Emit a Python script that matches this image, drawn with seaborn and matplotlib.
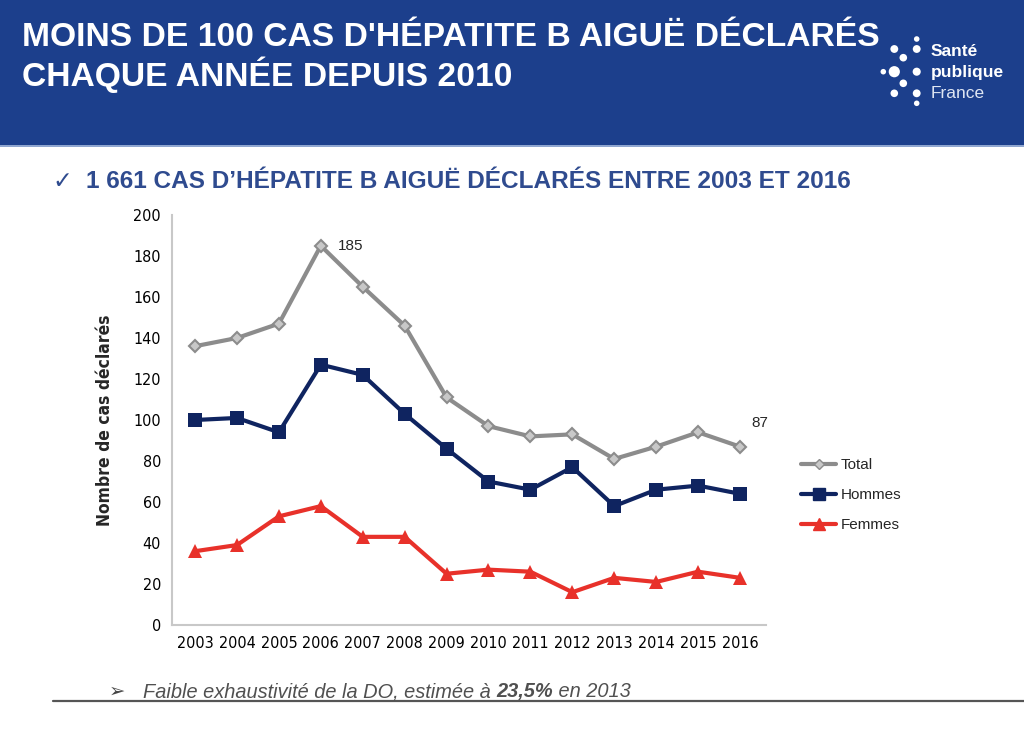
import matplotlib
matplotlib.use("Agg")
import matplotlib.pyplot as plt
from matplotlib import font_manager
from matplotlib.patches import Rectangle
from matplotlib.lines import Line2D
import seaborn as sns
import pandas as pd

years = [2003, 2004, 2005, 2006, 2007, 2008, 2009, 2010, 2011, 2012, 2013, 2014, 2015, 2016]
total = [136, 140, 147, 185, 165, 146, 111, 97, 92, 93, 81, 87, 94, 87]
hommes = [100, 101, 94, 127, 122, 103, 86, 70, 66, 77, 58, 66, 68, 64]
femmes = [36, 39, 53, 58, 43, 43, 25, 27, 26, 16, 23, 21, 26, 23]
series_names = ["Total", "Hommes", "Femmes"]
yticks = [0, 20, 40, 60, 80, 100, 120, 140, 160, 180, 200]

title_lines = ["MOINS DE 100 CAS D'HÉPATITE B AIGUË DÉCLARÉS", "CHAQUE ANNÉE DEPUIS 2010"]
subtitle = "1 661 CAS D\u2019HÉPATITE B AIGUË DÉCLARÉS ENTRE 2003 ET 2016"
ylabel = "Nombre de cas déclarés"

df = pd.DataFrame({
    "year": years * 3,
    "value": total + hommes + femmes,
    "serie": [s for s in series_names for _ in years],
})

sns.set_theme(style="white")
plt.rcParams['font.family'] = ['Liberation Sans', 'DejaVu Sans']


def find_file(keys, bold):
    for f in font_manager.fontManager.ttflist:
        fn = f.fname.replace("\\", "/").split("/")[-1].lower()
        if all(k in fn for k in keys):
            isbold = "bold" in fn
            if isbold == bold and "oblique" not in fn and "italic" not in fn:
                return f.fname
    return None


reg = find_file(["liberationsansnarrow"], False) or find_file(["dejavusanscondensed"], False)
bld = find_file(["liberationsansnarrow"], True) or find_file(["dejavusanscondensed"], True)
if reg:
    tick_fp = font_manager.FontProperties(fname=reg, size=11.5)
else:
    tick_fp = font_manager.FontProperties(family="Liberation Sans", size=10.5)
if bld:
    lab_fp = font_manager.FontProperties(fname=bld, size=12.5)
else:
    lab_fp = font_manager.FontProperties(family="Liberation Sans", weight="bold", size=11.5)

W, H = 1024, 733
fig = plt.figure(figsize=(W / 100, H / 100), dpi=100)
fig.patch.set_facecolor("white")


def fx(px):
    return px / W


def fy(py):
    return 1 - py / H


# Header band
fig.patches.append(Rectangle((0, fy(145)), 1, 145 / H, transform=fig.transFigure,
                             facecolor="#1c3f8c", edgecolor="none", zorder=0))
fig.patches.append(Rectangle((0, fy(147)), 1, 2 / H, transform=fig.transFigure,
                             facecolor="#8fa6d0", edgecolor="none", zorder=0))
for i, line in enumerate(title_lines):
    fig.text(fx(22), fy(38 + 37 * i), line, color="white", fontsize=24.2, fontweight="bold",
             va="center", ha="left")

# Logo dots
dots = [(916.7, 39, 16), (894.3, 49, 32), (916.7, 49, 32), (903.3, 57.7, 30),
        (883.3, 71.7, 16), (894.3, 71.7, 65), (916.7, 71.7, 34), (903.3, 83.3, 30),
        (894.3, 93.3, 30), (916.7, 93.3, 32), (916.7, 103.3, 16)]
logo_ax = fig.add_axes([0, 0, 1, 1], zorder=1)
logo_ax.set_xlim(0, W)
logo_ax.set_ylim(H, 0)
logo_ax.axis("off")
logo_ax.patch.set_alpha(0)
logo_ax.scatter([d[0] for d in dots], [d[1] for d in dots], s=[d[2] for d in dots],
                color="white", linewidths=0)
fig.text(fx(931), fy(52), "Santé", color="white", fontsize=12.5, fontweight="bold", va="center", ha="left")
fig.text(fx(931), fy(73), "publique", color="white", fontsize=12.5, fontweight="bold", va="center", ha="left")
fig.text(fx(931), fy(93), "France", color="#dfe6f3", fontsize=12.5, fontweight="light", va="center", ha="left")

# Subtitle
fig.text(fx(52), fy(181), "\u2713", color="#2f4b8f", fontsize=17, va="center", ha="left",
         family=['DejaVu Sans'])
fig.text(fx(86), fy(181), subtitle, color="#2f4b8f", fontsize=17.6, fontweight="bold",
         va="center", ha="left")

# Chart
ax = fig.add_axes([fx(172), fy(625), fx(766) - fx(172), (625 - 215) / H], zorder=2)
palette = {"Total": "#8c8c8c", "Hommes": "#0f2460", "Femmes": "#e8312a"}
markers = {"Total": "D", "Hommes": "s", "Femmes": "^"}
sizes = {"Total": 6, "Hommes": 10, "Femmes": 10}
for name in series_names:
    sub = df[df["serie"] == name]
    kw = dict(marker=markers[name], markersize=sizes[name], markeredgecolor=palette[name])
    if name == "Total":
        kw["markerfacecolor"] = "#c8c8c8"
        kw["markeredgewidth"] = 1.5
    else:
        kw["markerfacecolor"] = palette[name]
        kw["markeredgewidth"] = 0
    sns.lineplot(data=sub, x="year", y="value", color=palette[name], linewidth=3,
                 ax=ax, label=name, legend=False, **kw)

ax.set_xlim(2002.45, 2016.62)
ax.set_ylim(0, 200)
ax.set_xticks(years)
ax.set_xticklabels([str(y) for y in years], fontproperties=tick_fp)
ax.set_yticks(yticks)
ax.set_yticklabels([str(v) for v in yticks], fontproperties=tick_fp)
ax.tick_params(axis="both", length=0, pad=8, colors="black")
ax.set_xlabel("")
ax.set_ylabel(ylabel, fontproperties=lab_fp, labelpad=14)
for s in ["top", "right"]:
    ax.spines[s].set_visible(False)
for s in ["left", "bottom"]:
    ax.spines[s].set_color("#c8c8c8")
    ax.spines[s].set_linewidth(1.5)
ax.grid(False)

ax.annotate("185", xy=(2006, 185), xytext=(12, 0), textcoords="offset points",
            fontsize=11, va="center", ha="left")
ax.annotate("87", xy=(2016, 87), xytext=(8, 17), textcoords="offset points",
            fontsize=11, va="center", ha="left")

handles = []
for name in series_names:
    kw = dict(marker=markers[name], color=palette[name], linewidth=3,
              markersize=sizes[name] * 0.8, markeredgecolor=palette[name])
    kw["markerfacecolor"] = "#c8c8c8" if name == "Total" else palette[name]
    handles.append(Line2D([0], [0], **kw))
fig.legend(handles, series_names, loc="upper left", bbox_to_anchor=(fx(795), fy(452)),
           frameon=False, fontsize=11, handlelength=2.3, handletextpad=0.3, labelspacing=1.05,
           borderaxespad=0)

# Bottom note
fig.add_artist(Line2D([fx(53), 1], [fy(701), fy(701)], color="#555555", linewidth=1.6,
                      transform=fig.transFigure))
fig.text(fx(109), fy(697), "\u27a2", color="#444444", fontsize=14, va="baseline", ha="left",
         family=['DejaVu Sans'])
fig.canvas.draw()
renderer = fig.canvas.get_renderer()
x = fx(143)
parts = [("Faible exhaustivité de la DO, estimée à ", "normal"), ("23,5%", "bold"), (" en 2013", "normal")]
for txt, wt in parts:
    t = fig.text(x, fy(697), txt, color="#505050", fontsize=14.4, fontstyle="italic",
                 fontweight=wt, va="baseline", ha="left")
    bb = t.get_window_extent(renderer=renderer)
    x += bb.width / W

fig.savefig("out.png", dpi=100)
